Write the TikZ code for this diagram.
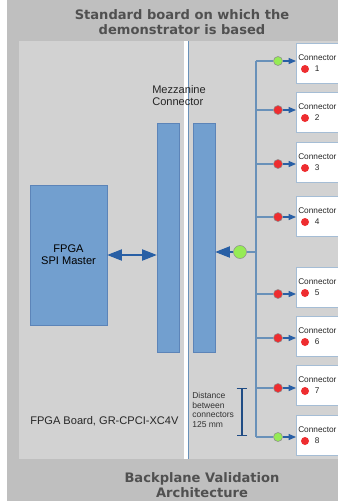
\documentclass[tikz,border=0pt]{standalone}
\usepackage{fontspec}
\setmainfont{Liberation Sans}
\newfontfamily\titlefont{DejaVu Sans}
\usetikzlibrary{arrows.meta, positioning}
\definecolor{outerbg}{RGB}{191,191,191}
\definecolor{innerbg}{RGB}{210,210,210}
\definecolor{titlegray}{RGB}{80,80,80}
\definecolor{blockblue}{RGB}{114,159,207}
\definecolor{blockedge}{RGB}{92,132,184}
\definecolor{tipblue}{RGB}{40,95,165}
\definecolor{wireblue}{RGB}{105,145,185}
\definecolor{dotred}{RGB}{238,45,48}
\definecolor{dotgreen}{RGB}{150,235,85}

\begin{document}
\begin{tikzpicture}[
    x=0.75pt, y=-0.75pt,
    title/.style={font=\titlefont\bfseries\fontsize{9.8}{11.3}\selectfont, text=titlegray, align=center},
    mainlabel/.style={font=\fontsize{8.3}{9}\selectfont, text=black!85, inner sep=0pt},
    note/.style={font=\fontsize{6.4}{7.3}\selectfont, text=black!80, align=left, inner sep=0pt},
    conntext/.style={font=\fontsize{6.2}{7}\selectfont, text=black!85, inner sep=0pt},
    fpgabox/.style={rectangle, draw=blockedge, fill=blockblue, minimum width=57.75pt, minimum height=105pt, align=center, inner sep=0pt},
    mezzbox/.style={rectangle, draw=blockedge, fill=blockblue, minimum width=16.5pt, minimum height=171.75pt, inner sep=0pt},
    connbox/.style={rectangle, draw=wireblue!60, fill=white, anchor=north west, minimum width=33pt, minimum height=30pt, inner sep=0pt},
    busdot/.style={circle, draw=black!45, minimum size=6.75pt, inner sep=0pt},
    statedot/.style={circle, fill=dotred, minimum size=6pt, inner sep=0pt},
    hubdot/.style={circle, draw=black!45, fill=dotgreen, minimum size=9.75pt, inner sep=0pt},
    wire/.style={draw=wireblue, line width=0.8pt},
    arrow/.style={-{Triangle[length=5.5pt, width=4.5pt]}, draw=wireblue, line width=0.8pt, color=tipblue},
    bigarrow/.style={-{Triangle[length=11pt, width=8.5pt]}, line width=0.8pt, color=tipblue},
    dblarrow/.style={{Triangle[length=11pt, width=8.5pt]}-{Triangle[length=11pt, width=8.5pt]}, line width=0.8pt, color=tipblue},
    dimbar/.style={{Bar[width=8pt]}-{Bar[width=8pt]}, line width=1pt, color=tipblue!80!black},
]
    \useasboundingbox (0,0) rectangle (338,501);

    % Background panels
    \fill[white] (0,0) rectangle (7,501);
    \fill[outerbg] (7,0) rectangle (338,501);
    \fill[innerbg] (19,41) rectangle (338,459);
    \fill[white] (184,41) rectangle (187.5,459);
    \draw[wireblue, line width=0.6pt] (188,41) -- (188,459);

    % Titles
    \node[title] (toptitle) at (182,22) {Standard board on which the\\demonstrator is based};
    \node[title] (bottitle) at (202,485) {Backplane Validation\\Architecture};

    % FPGA board
    \node[fpgabox, font=\fontsize{8.3}{9}\selectfont] (spi) at (68.5,255) {FPGA\\SPI Master};
    \node[mainlabel, anchor=west] (boardname) at (30,421) {FPGA Board, GR-CPCI-XC4V};

    % Mezzanine connector
    \node[mezzbox] (mezzL) at (168,237.5) {};
    \node[mezzbox] (mezzR) at (204,237.5) {};
    \node[mainlabel, anchor=west, align=left] (mezzname) at (152,96) {Mezzanine\\Connector};
    \draw[dblarrow] (spi.east) -- (spi.east -| mezzL.west);

    % Hub and bus
    \node[hubdot] (hub) at (240,252) {};
    \coordinate (hubbus) at (256,252);
    \draw[bigarrow] (hub) -- (hub -| mezzR.east);
    \draw[wire] (hubbus) -- (hub);

    % Backplane connectors
    \foreach \i/\yb/\by/\dc in {1/43/61/dotgreen, 2/92/110/dotred, 3/142/164/dotred, 4/196/217/dotred,
                                5/267/294/dotred, 6/316/338/dotred, 7/365/388/dotred, 8/415/437/dotgreen} {
        \node[connbox] (conn\i) at (296,\yb) {};
        \node[conntext, anchor=west] (conntxt\i) at (298,\yb+15) {Connector};
        \node[statedot] (state\i) at (305,\yb+26) {};
        \node[conntext, right=4pt of state\i] (num\i) {\i};
        \coordinate (bus\i) at (256,\by);
        \node[busdot, fill=\dc] (tap\i) at (278,\by) {};
        \draw[wire] (bus\i) -- (tap\i);
        \draw[arrow] (tap\i) -- (tap\i -| conn\i.west);
    }
    \draw[wire] (bus1) -- (bus8);

    % Distance between connectors
    \coordinate (dimtop) at (242,388);
    \coordinate (dimbot) at (242,436);
    \draw[dimbar] (dimtop) -- (dimbot);
    \node[note, anchor=north west] (dimnote) at (192,392) {Distance\\between\\connectors\\125 mm};
\end{tikzpicture}
\end{document}
